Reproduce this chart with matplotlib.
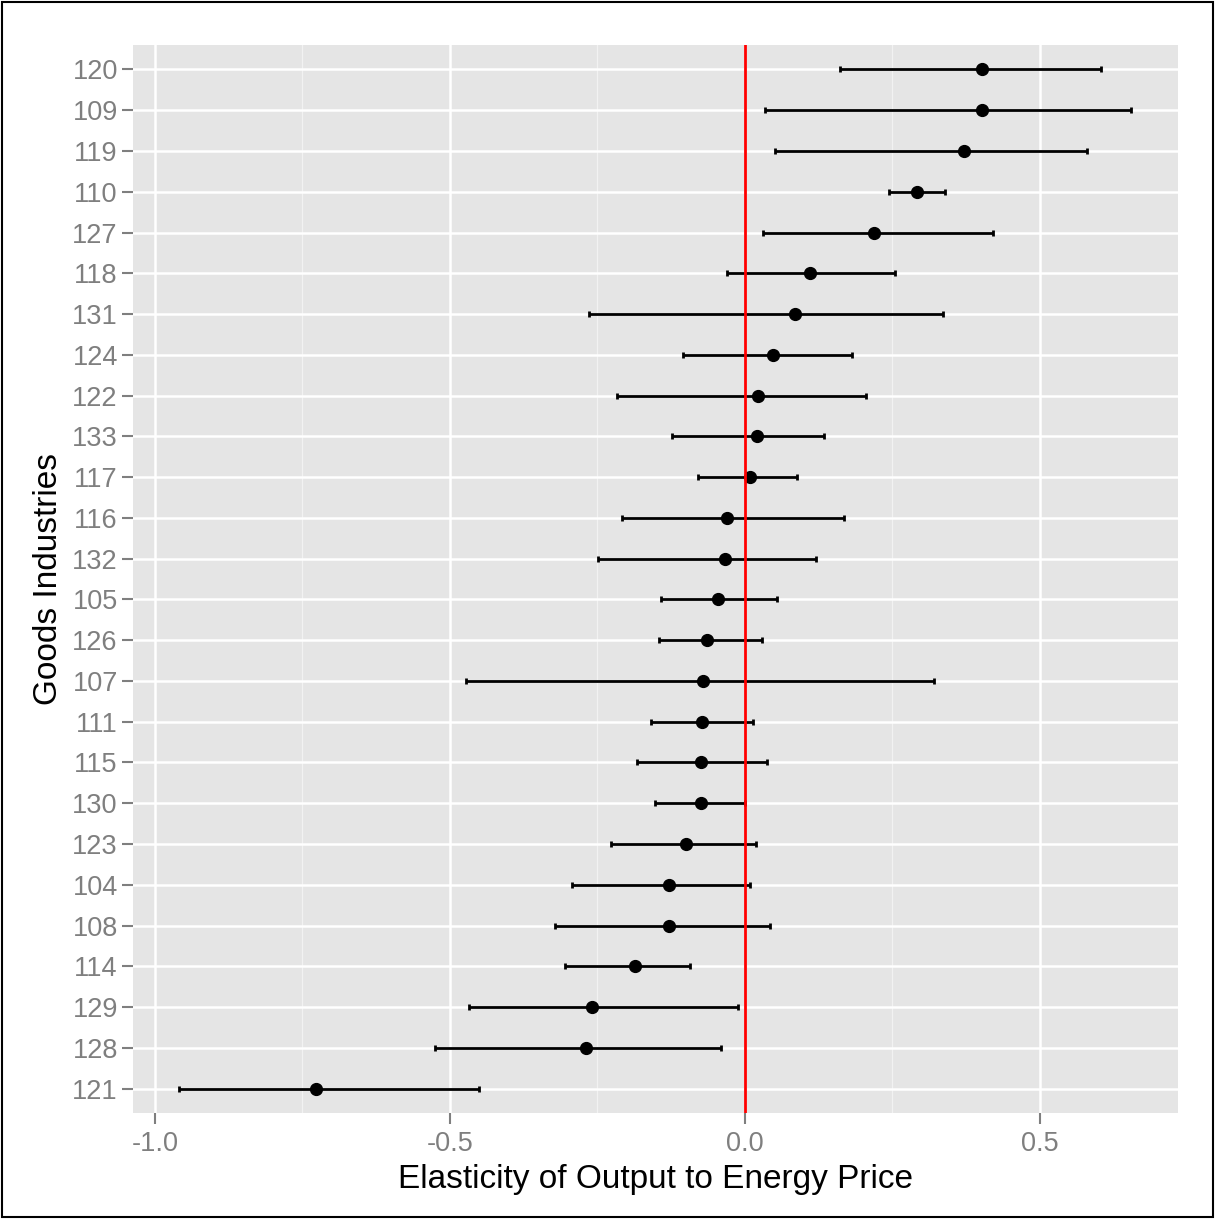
import matplotlib
matplotlib.use('Agg')
import matplotlib.pyplot as plt
from matplotlib.ticker import MultipleLocator
from matplotlib.patches import Rectangle

plt.rcParams['font.family'] = ['Liberation Sans', 'DejaVu Sans']

# Industry codes, ordered top to bottom
industries = ['120', '109', '119', '110', '127', '118', '131', '124', '122', '133',
              '117', '116', '132', '105', '126', '107', '111', '115', '130', '123',
              '104', '108', '114', '129', '128', '121']
estimate = [0.402, 0.402, 0.371, 0.292, 0.219, 0.110, 0.085, 0.047, 0.022, 0.020,
            0.008, -0.031, -0.034, -0.046, -0.064, -0.071, -0.073, -0.075, -0.075, -0.100,
            -0.129, -0.129, -0.186, -0.259, -0.269, -0.727]
lower = [0.161, 0.034, 0.051, 0.244, 0.031, -0.031, -0.264, -0.105, -0.217, -0.124,
         -0.080, -0.208, -0.249, -0.142, -0.146, -0.473, -0.159, -0.183, -0.153, -0.227,
         -0.293, -0.322, -0.305, -0.468, -0.525, -0.959]
upper = [0.603, 0.654, 0.580, 0.339, 0.420, 0.254, 0.336, 0.181, 0.205, 0.134,
         0.088, 0.168, 0.120, 0.054, 0.029, 0.320, 0.014, 0.037, 0.000, 0.019,
         0.008, 0.042, -0.093, -0.012, -0.041, -0.451]

ypos = list(range(len(industries)))
xerr = [[e - l for e, l in zip(estimate, lower)],
        [u - e for e, u in zip(estimate, upper)]]

fig = plt.figure(figsize=(12.15, 12.19), dpi=100)
ax = fig.add_axes([0.1095, 0.0869, 0.86, 0.8762])
ax.set_facecolor('#E5E5E5')

ax.errorbar(estimate, ypos, xerr=xerr, fmt='o', color='black', markersize=8.5,
            elinewidth=2, capsize=2.5, capthick=2, zorder=3)
ax.axvline(0, color='#FF0000', linewidth=2, zorder=4)

ax.set_xlim(-1.037, 0.734)
ax.set_ylim(len(industries) - 0.4, -0.6)
ax.set_yticks(ypos)
ax.set_yticklabels(industries)
ax.xaxis.set_minor_locator(MultipleLocator(0.25))
ax.set_xticks([-1.0, -0.5, 0.0, 0.5])
ax.set_xticklabels(['-1.0', '-0.5', '0.0', '0.5'])

ax.grid(which='major', color='white', linewidth=1.8, zorder=0)
ax.grid(which='minor', axis='x', color='#F2F2F2', linewidth=0.9, zorder=0)
ax.set_axisbelow(True)
for s in ax.spines.values():
    s.set_visible(False)

ax.tick_params(which='major', length=8, width=1.5, color='#7F7F7F',
               labelcolor='#7F7F7F', labelsize=19.5, pad=3)
ax.tick_params(axis='x', which='major', pad=5)
ax.tick_params(which='minor', length=0)

ax.set_xlabel('Elasticity of Output to Energy Price', fontsize=24, color='black', labelpad=5)
ax.set_ylabel('Goods Industries', fontsize=24, color='black', labelpad=6)

# black frame around the whole figure
fig.patches.append(Rectangle((0.002, 0.002), 0.996, 0.996, transform=fig.transFigure,
                             fill=False, edgecolor='black', linewidth=1.5))

fig.savefig('out.png', dpi=100)
